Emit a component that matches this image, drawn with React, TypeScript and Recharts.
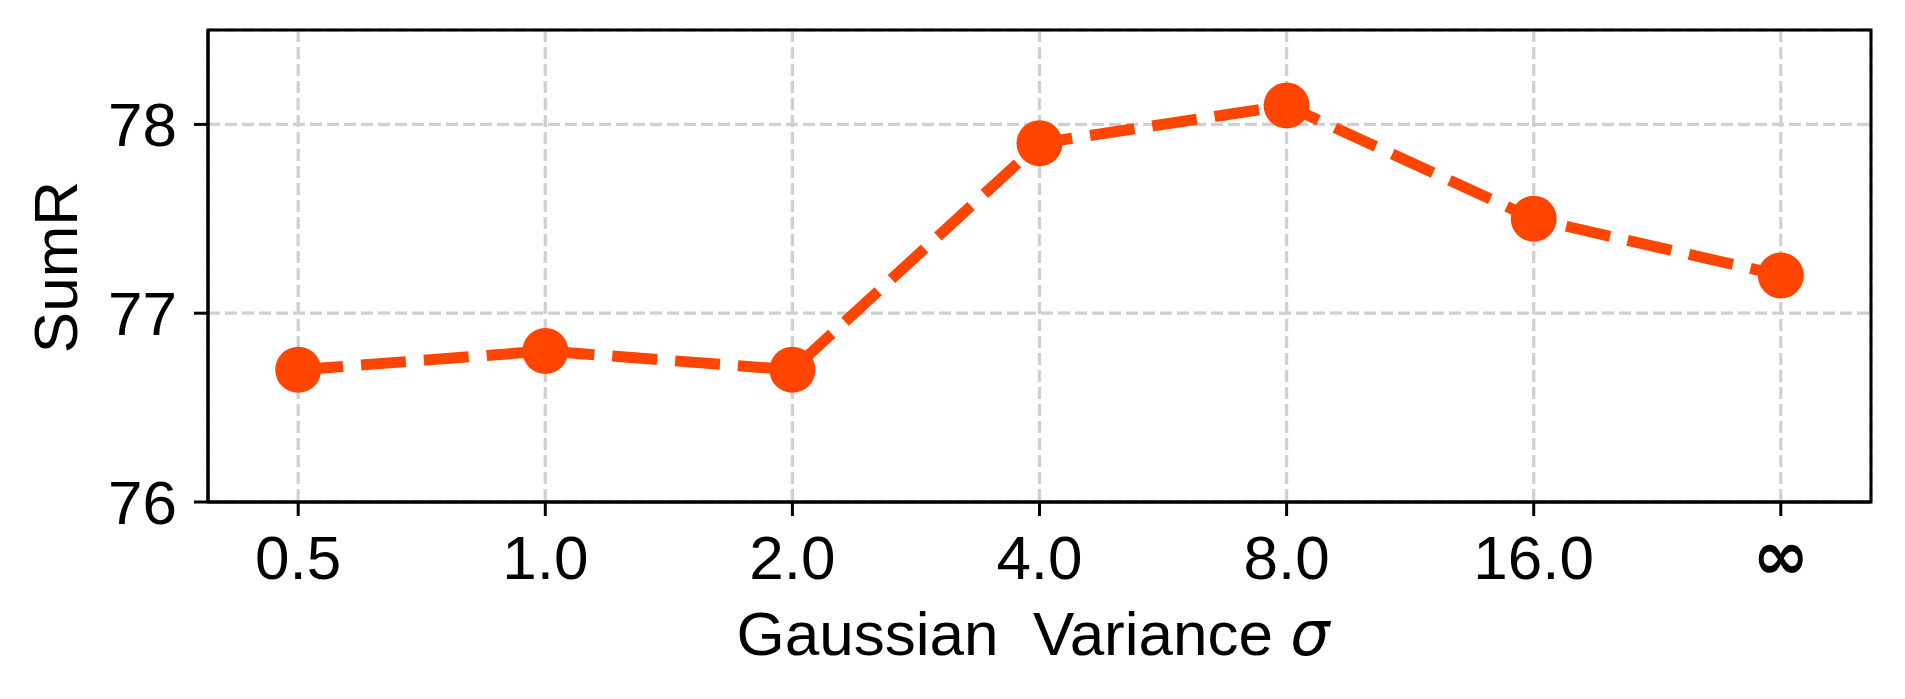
import React from 'react';
import { LineChart, Line, XAxis, YAxis, CartesianGrid, ReferenceArea } from 'recharts';

const categories = ['0.5', '1.0', '2.0', '4.0', '8.0', '16.0', '∞'];
const sumR = [76.7, 76.8, 76.7, 77.9, 78.1, 77.5, 77.2];
const yTicks = [76, 77, 78];
const xTicks = categories.map((_, i) => i);

const data = categories.map((c, i) => ({ i, label: c, v: sumR[i] }));

const FONT = '"Liberation Sans", Arial, Helvetica, sans-serif';
const ORANGE = '#FF4500';

const YLabel = () => (
  <text
    x={69}
    y={259}
    transform="rotate(-90, 69, 259)"
    textAnchor="middle"
    fontSize={62}
    fontFamily={FONT}
    fill="#000"
  >
    SumR
  </text>
);

const XLabel = () => (
  <text
    x={1025}
    y={647}
    textAnchor="middle"
    fontSize={62}
    fontFamily={FONT}
    fill="#000"
    style={{ whiteSpace: 'pre' }}
  >
    {'Gaussian  Variance '}
    <tspan fontFamily='"DejaVu Sans", sans-serif' fontStyle="italic">σ</tspan>
  </text>
);

const XTick = (props: any) => {
  const { x, y, payload } = props;
  const label = categories[payload.value];
  const isInf = label === '∞';
  return (
    <text
      x={x}
      y={isInf ? y + 44 : y}
      dy={isInf ? 0 : '0.71em'}
      textAnchor="middle"
      fill="#000"
      fontSize={isInf ? 68 : 62}
      fontFamily={isInf ? '"DejaVu Sans", sans-serif' : FONT}
      fontWeight={isInf ? 'bold' : 'normal'}
    >
      {label}
    </text>
  );
};

export default function App() {
  return (
    <LineChart
      width={1889}
      height={680}
      data={data}
      margin={{ top: 22, right: 26, left: 0, bottom: 0 }}
    >
      <CartesianGrid
        stroke="#d0d0d0"
        strokeWidth={3.3}
        strokeDasharray="12 5"
      />
      <XAxis
        type="number"
        dataKey="i"
        domain={[-0.365, 6.365]}
        ticks={xTicks}
        allowDataOverflow
        height={186}
        axisLine={{ stroke: '#000', strokeWidth: 3 }}
        tickLine={{ stroke: '#000', strokeWidth: 3 }}
        tickSize={14}
        tickMargin={19}
        tick={<XTick />}
        interval={0}
        label={{ content: () => <XLabel /> }}
      />
      <YAxis
        type="number"
        domain={[76, 78.5]}
        ticks={yTicks}
        allowDataOverflow
        width={200}
        axisLine={{ stroke: '#000', strokeWidth: 3 }}
        tickLine={{ stroke: '#000', strokeWidth: 3 }}
        tickSize={14}
        tickMargin={17}
        tick={{ fill: '#000', fontSize: 62, fontFamily: FONT }}
        interval={0}
        label={{ content: () => <YLabel /> }}
      />
      <ReferenceArea
        x1={-0.365}
        x2={6.365}
        y1={76}
        y2={78.5}
        fill="none"
        fillOpacity={0}
        stroke="#000"
        strokeWidth={3}
        ifOverflow="visible"
      />
      <Line
        type="linear"
        dataKey="v"
        stroke={ORANGE}
        strokeWidth={11}
        strokeDasharray="45 18"
        dot={{ r: 23, fill: ORANGE, stroke: 'none', strokeWidth: 0, strokeDasharray: '0' }}
        activeDot={false}
        isAnimationActive={false}
      />
    </LineChart>
  );
}
